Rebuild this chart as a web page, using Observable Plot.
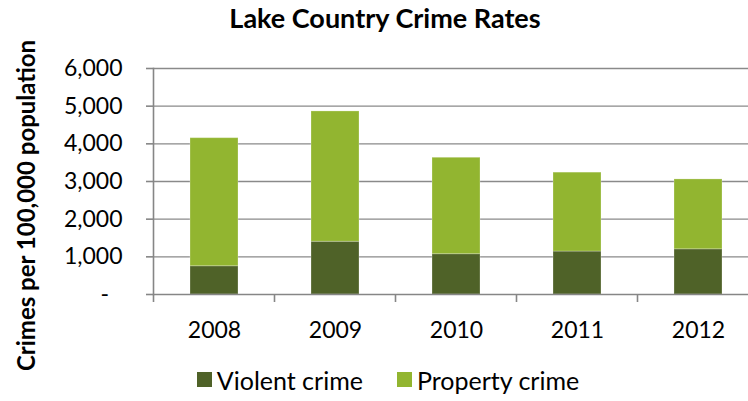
<!DOCTYPE html>
<html>
<head>
<meta charset="utf-8">
<script src="https://cdn.jsdelivr.net/npm/d3@7"></script>
<script src="https://cdn.jsdelivr.net/npm/@observablehq/plot@0.6"></script>
<style>
  html, body { margin: 0; padding: 0; background: #fff; }
  #wrap { position: relative; width: 748px; height: 401px; overflow: hidden; font-family: Lato, "Open Sans", sans-serif; color: #000; }
  #title { position: absolute; left: 0; top: 0; width: 748px; height: 40px; line-height: 36px; text-align: center; font-weight: bold; font-size: 27px; padding-left: 22px; box-sizing: border-box; }
  #chart svg { display: block; }
  #legend { position: absolute; left: 0; top: 358px; width: 748px; height: 43px; display: flex; align-items: center; justify-content: center; padding-left: 28px; box-sizing: border-box; font-size: 25px; }
  .item { display: flex; align-items: center; }
  .item + .item { margin-left: 34px; }
  .sw { width: 15px; height: 15px; margin-right: 5px; }
</style>
</head>
<body>
<div id="wrap">
  <div id="chart"></div>
  <div id="legend"></div>
  <div id="title"></div>
</div>
<script>
const chartTitle = "Lake Country Crime Rates";
const yTitle = "Crimes per 100,000 population";
const years = ["2008", "2009", "2010", "2011", "2012"];
const seriesNames = ["Violent crime", "Property crime"];
const seriesColors = ["#4F6228", "#92B530"];
const violent = [750, 1400, 1070, 1140, 1200];
const property = [3400, 3460, 2560, 2095, 1855];
const yTicks = [0, 1000, 2000, 3000, 4000, 5000, 6000];

const rows = [];
years.forEach((yr, i) => {
  rows.push({year: yr, series: seriesNames[0], value: violent[i]});
  rows.push({year: yr, series: seriesNames[1], value: property[i]});
});

const axisColor = "#868686";

// boundary ticks between categories (Excel style)
const boundaryTicks = Plot.ruleY([0], {
  render(index, scales, values, dimensions) {
    const x = scales.x;
    const dom = (x.domain ? x.domain() : years);
    const bw = x.bandwidth ? x.bandwidth() : 0;
    const step = x.step ? x.step() : bw / 0.4;
    const off = (step - bw) / 2;
    const bounds = dom.map(d => x(d) - off);
    bounds.push(bounds[bounds.length - 1] + step);
    const y0 = scales.y(0);
    const g = d3.create("svg:g");
    g.selectAll("line").data(bounds).join("line")
      .attr("x1", d => d).attr("x2", d => d)
      .attr("y1", y0).attr("y2", y0 + 8)
      .attr("stroke", axisColor).attr("stroke-width", 1.6);
    return g.node();
  }
});

const plot = Plot.plot({
  width: 748,
  height: 401,
  marginTop: 68,
  marginBottom: 107,
  marginLeft: 153,
  marginRight: 0,
  style: {fontFamily: "Lato, 'Open Sans', sans-serif", fontSize: "23px", color: "#000", background: "transparent"},
  x: {domain: years, range: [153, 759.5], paddingInner: 0.6, paddingOuter: 0.3, label: null},
  y: {domain: [0, 6000], label: null},
  color: {domain: seriesNames, range: seriesColors},
  marks: [
    Plot.gridY(yTicks.filter(d => d > 0), {stroke: "#8a8a8a", strokeOpacity: 1, strokeWidth: 1.4}),
    Plot.barY(rows, {x: "year", y: "value", fill: "series", order: seriesNames, stroke: "#ffffff", strokeOpacity: 0.25, strokeWidth: 1}),
    Plot.ruleY([0], {stroke: axisColor, strokeWidth: 1.6}),
    Plot.frame({anchor: "left", stroke: axisColor, strokeWidth: 1.6}),
    boundaryTicks,
    Plot.axisY({
      ticks: yTicks,
      tickFormat: d => d === 0 ? "-\u2007" : d3.format(",")(d),
      tickSize: 7, tickPadding: 24, stroke: axisColor, strokeWidth: 1.6,
      fontSize: 23, label: null
    }),
    Plot.axisX({tickSize: 0, tickPadding: 27, fontSize: 23, label: null}),
    Plot.text([yTitle], {
      text: d => d, frameAnchor: "left", textAnchor: "middle", lineAnchor: "middle", rotate: -90,
      dx: -126, dy: 24, fontSize: 24, fontWeight: "bold", fill: "#000"
    })
  ]
});

document.getElementById("title").textContent = chartTitle;
document.getElementById("chart").appendChild(plot);

const legend = d3.select("#legend");
seriesNames.forEach((name, i) => {
  const item = legend.append("div").attr("class", "item");
  item.append("div").attr("class", "sw").style("background", seriesColors[i]);
  item.append("span").text(name);
});
</script>
</body>
</html>
